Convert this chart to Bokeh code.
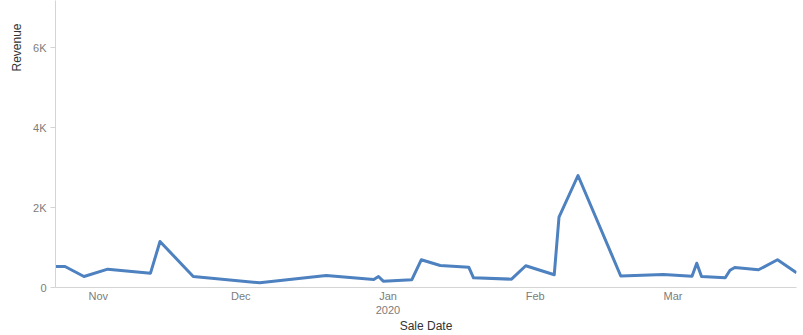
import pandas as pd
from bokeh.plotting import figure
from bokeh.models import (Range1d, FixedTicker, CustomJSTickFormatter, Title,
                          ColumnDataSource)
from bokeh.embed import file_html
from bokeh.resources import INLINE

# ---- data ----
sale_dates = [
    "2019-10-23", "2019-10-25", "2019-10-29", "2019-11-03", "2019-11-12",
    "2019-11-14", "2019-11-21", "2019-12-05", "2019-12-19", "2019-12-29",
    "2019-12-30", "2019-12-31", "2020-01-06", "2020-01-08", "2020-01-12",
    "2020-01-18", "2020-01-19", "2020-01-27", "2020-01-30", "2020-02-05",
    "2020-02-06", "2020-02-10", "2020-02-19", "2020-02-28", "2020-03-05",
    "2020-03-06", "2020-03-07", "2020-03-12", "2020-03-13", "2020-03-14",
    "2020-03-19", "2020-03-23", "2020-03-27",
]
revenue = [
    525, 525, 275, 458, 358,
    1150, 275, 118, 300, 200,
    275, 158, 193, 693, 550,
    508, 243, 208, 543, 320,
    1758, 2800, 288, 325, 283,
    608, 275, 243, 430, 500,
    443, 693, 368,
]
month_ticks = ["2019-11-01", "2019-12-01", "2020-01-01", "2020-02-01", "2020-03-01"]
y_ticks = [0, 2000, 4000, 6000]
y_tick_labels = ["0", "2K", "4K", "6K"]

FONT = "Liberation Sans"
GRAY = "#7c7c7c"
AXIS_LINE = "#d4d4d4"

dates = pd.to_datetime(sale_dates)
src = ColumnDataSource(dict(date=dates, revenue=revenue))

p = figure(width=803, height=335, x_axis_type="datetime",
           output_backend="svg", toolbar_location=None,
           x_range=Range1d(dates[0], dates[-1]),
           y_range=Range1d(0, 7175),
           min_border_left=55, min_border_right=7,
           min_border_top=0, min_border_bottom=48)
p.outline_line_color = None
p.grid.visible = False
p.background_fill_color = "white"
p.border_fill_color = "white"

p.line("date", "revenue", source=src, line_color="#4d81bf", line_width=3,
       line_join="round")

# x axis
xa = p.xaxis[0]
xa.ticker = FixedTicker(ticks=[pd.Timestamp(t).value / 1e6 for t in month_ticks])
xa.formatter = CustomJSTickFormatter(code="""
const d = new Date(tick);
const names = ["Jan","Feb","Mar","Apr","May","Jun","Jul","Aug","Sep","Oct","Nov","Dec"];
const m = d.getUTCMonth();
return m == 0 ? names[m] + "\\n" + d.getUTCFullYear() : names[m];
""")
xa.axis_label = "Sale Date"
xa.axis_label_text_font = FONT
xa.axis_label_text_font_size = "12px"
xa.axis_label_text_font_style = "normal"
xa.axis_label_text_color = "#333333"
xa.axis_label_standoff = 0
xa.major_label_text_font = FONT
xa.major_label_text_font_size = "11px"
xa.major_label_text_color = GRAY
xa.major_label_standoff = 2
xa.major_tick_out = 0
xa.major_tick_in = 0
xa.major_tick_line_color = None
xa.minor_tick_line_color = None
xa.axis_line_color = AXIS_LINE

# y axis
ya = p.yaxis[0]
ya.ticker = FixedTicker(ticks=y_ticks)
ya.major_label_overrides = {t: s for t, s in zip(y_ticks, y_tick_labels)}
ya.major_label_text_font = FONT
ya.major_label_text_font_size = "11px"
ya.major_label_text_color = GRAY
ya.major_label_standoff = 4
ya.major_tick_out = 5
ya.major_tick_in = 0
ya.major_tick_line_color = AXIS_LINE
ya.minor_tick_line_color = None
ya.axis_line_color = AXIS_LINE

# y axis title, placed near the top like the reference
p.add_layout(Title(text="Revenue", align="right", offset=23, standoff=14,
                   text_font=FONT, text_font_size="12px",
                   text_font_style="normal", text_color="#333333"), "left")

open("out.html", "w").write(file_html(p, INLINE))
